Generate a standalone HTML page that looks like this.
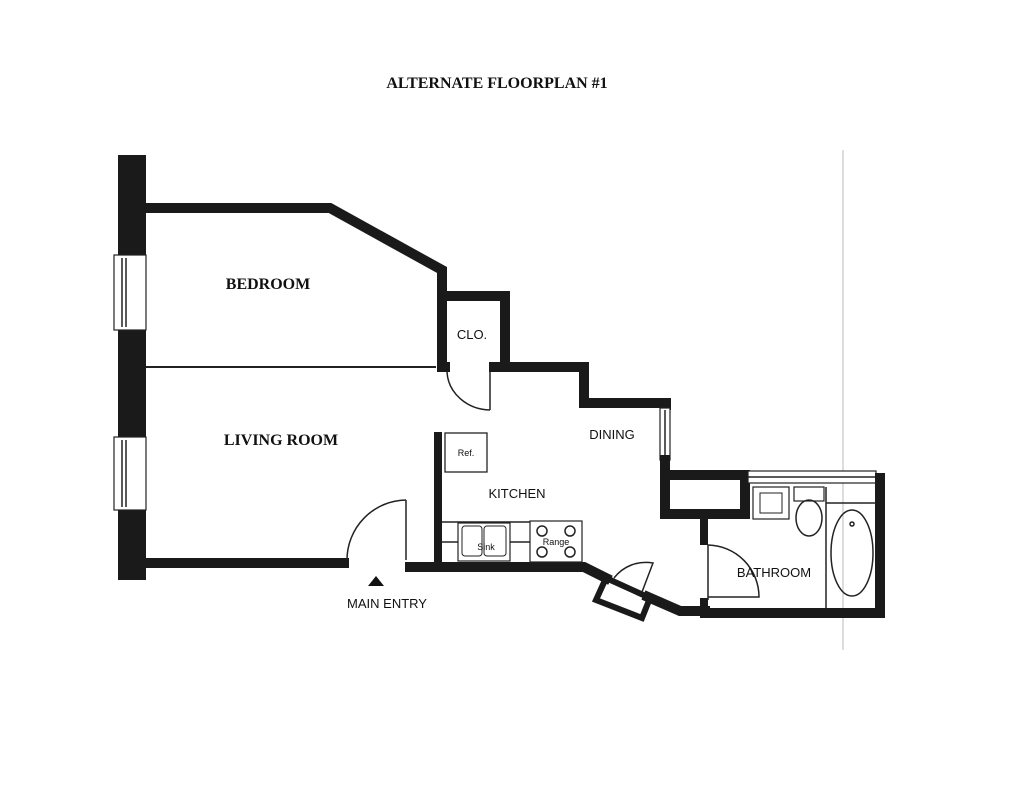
<!DOCTYPE html>
<html><head><meta charset="utf-8"><style>
html,body{margin:0;padding:0;background:#fff;}
svg{display:block}
.w{fill:none;stroke:#1a1a1a;stroke-width:10;stroke-linejoin:miter;stroke-linecap:square}
.t{fill:none;stroke:#222;stroke-width:1.5}
.s{font-family:"Liberation Sans",sans-serif;fill:#111}
.b{font-family:"Liberation Serif",serif;font-weight:bold;fill:#111}
</style></head><body>
<svg width="1024" height="791" viewBox="0 0 1024 791" xmlns="http://www.w3.org/2000/svg">
<rect width="1024" height="791" fill="#fff"/>
<text x="497" y="88" class="b" font-size="16" text-anchor="middle">ALTERNATE FLOORPLAN #1</text>
<line x1="843" y1="150" x2="843" y2="650" stroke="#bbb" stroke-width="1"/>
<rect x="118" y="155" width="28" height="425" fill="#1a1a1a"/>
<rect x="114" y="255" width="32" height="75" fill="#fff" stroke="#222" stroke-width="1.2"/>
<line x1="122" y1="258" x2="122" y2="327" class="t"/><line x1="126" y1="258" x2="126" y2="327" class="t"/>
<rect x="114" y="437" width="32" height="73" fill="#fff" stroke="#222" stroke-width="1.2"/>
<line x1="122" y1="440" x2="122" y2="507" class="t"/><line x1="126" y1="440" x2="126" y2="507" class="t"/>
<polyline class="w" points="146,208 330,208 442,270 442,367"/>
<polyline class="w" points="442,296 505,296 505,367 584,367 584,403 666,403 666,405"/>
<line x1="438" y1="367" x2="450" y2="367" stroke="#1a1a1a" stroke-width="10"/>
<line x1="489" y1="367" x2="500" y2="367" stroke="#1a1a1a" stroke-width="10"/>
<rect x="660" y="408" width="10" height="52" fill="#fff" stroke="#222" stroke-width="1.2"/>
<line x1="665" y1="410" x2="665" y2="458" class="t"/>
<polyline class="w" points="665,460 665,514 705,514"/>
<rect x="665" y="475" width="80" height="39" fill="none" stroke="#1a1a1a" stroke-width="10"/>
<rect x="748" y="471" width="128" height="12" fill="#fff" stroke="#222" stroke-width="1.2"/>
<line x1="748" y1="477" x2="876" y2="477" class="t"/>
<polyline class="w" points="880,478 880,613 705,613"/>
<line x1="704" y1="514" x2="704" y2="545" stroke="#1a1a1a" stroke-width="8"/>
<line x1="704" y1="598" x2="704" y2="613" stroke="#1a1a1a" stroke-width="8"/>
<line x1="146" y1="367" x2="436" y2="367" stroke="#222" stroke-width="2"/>
<path d="M447,372 A44,40 0 0 0 490,410" class="t"/><line x1="490" y1="372" x2="490" y2="410" class="t"/>
<polyline class="w" points="146,563 344,563"/>
<path d="M347,560 A60,60 0 0 1 406,500" class="t"/><line x1="406" y1="500" x2="406" y2="560" class="t"/>
<polygon points="376,576 368,586 384,586" fill="#111"/>
<polyline class="w" points="410,567 584,567 606,578"/>
<polygon points="606,578 596,600 642,618 650,598" fill="none" stroke="#1a1a1a" stroke-width="6"/>
<path d="M614,578 A40,40 0 0 1 653,563 L642,592" class="t"/>
<polyline class="w" points="648,597 680,611 705,611"/>
<line x1="438" y1="432" x2="438" y2="565" stroke="#1a1a1a" stroke-width="8"/>
<rect x="445" y="433" width="42" height="39" fill="none" stroke="#222" stroke-width="1.3"/>
<text x="466" y="456" class="s" font-size="9" text-anchor="middle">Ref.</text>
<line x1="442" y1="522" x2="530" y2="522" class="t"/>
<line x1="442" y1="542" x2="458" y2="542" class="t"/><line x1="510" y1="542" x2="530" y2="542" class="t"/>
<rect x="458" y="523" width="52" height="38" fill="none" stroke="#222" stroke-width="1.2"/>
<rect x="462" y="526" width="20" height="30" rx="3" fill="none" stroke="#222" stroke-width="1"/>
<rect x="484" y="526" width="22" height="30" rx="3" fill="none" stroke="#222" stroke-width="1"/>
<text x="486" y="550" class="s" font-size="9" text-anchor="middle">Sink</text>
<rect x="530" y="521" width="52" height="41" fill="none" stroke="#222" stroke-width="1.2"/>
<circle cx="542" cy="531" r="5" class="t"/><circle cx="570" cy="531" r="5" class="t"/>
<circle cx="542" cy="552" r="5" class="t"/><circle cx="570" cy="552" r="5" class="t"/>
<text x="556" y="545" class="s" font-size="9" text-anchor="middle">Range</text>
<rect x="753" y="487" width="36" height="32" fill="none" stroke="#222" stroke-width="1.2"/>
<rect x="760" y="493" width="22" height="20" fill="none" stroke="#222" stroke-width="1"/>
<rect x="794" y="487" width="30" height="14" fill="none" stroke="#222" stroke-width="1.2"/>
<ellipse cx="809" cy="518" rx="13" ry="18" class="t"/>
<line x1="826" y1="487" x2="826" y2="608" class="t"/>
<line x1="826" y1="503" x2="876" y2="503" class="t"/>
<ellipse cx="852" cy="553" rx="21" ry="43" class="t"/>
<circle cx="852" cy="524" r="2" class="t"/>
<line x1="708" y1="545" x2="708" y2="600" class="t"/>
<path d="M708,545 A52,52 0 0 1 759,597 L708,597" class="t"/>
<text x="268" y="289" class="b" font-size="16" text-anchor="middle">BEDROOM</text>
<text x="281" y="445" class="b" font-size="16" text-anchor="middle">LIVING ROOM</text>
<text x="472" y="339" class="s" font-size="13" text-anchor="middle">CLO.</text>
<text x="612" y="439" class="s" font-size="13" text-anchor="middle">DINING</text>
<text x="517" y="498" class="s" font-size="13" text-anchor="middle">KITCHEN</text>
<text x="774" y="577" class="s" font-size="13" text-anchor="middle">BATHROOM</text>
<text x="387" y="608" class="s" font-size="13" text-anchor="middle">MAIN ENTRY</text>
</svg>
</body></html>
